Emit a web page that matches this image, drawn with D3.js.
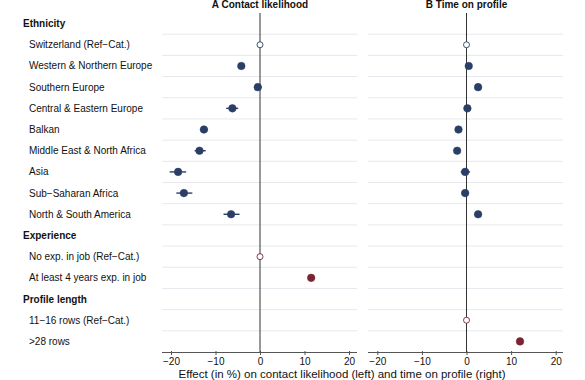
<!DOCTYPE html>
<html><head><meta charset="utf-8">
<script src="https://cdn.jsdelivr.net/npm/d3@7"></script>
<style>body{margin:0;background:#fff}svg{display:block;font-family:"Liberation Sans",Arial,sans-serif}</style>
</head><body><div id="chart"></div>
<script>
const rows = ["Ethnicity","Switzerland (Ref\u2212Cat.)","Western & Northern Europe","Southern Europe","Central & Eastern Europe","Balkan","Middle East & North Africa","Asia","Sub\u2212Saharan Africa","North & South America","Experience","No exp. in job (Ref\u2212Cat.)","At least 4 years exp. in job","Profile length","11\u221216 rows (Ref\u2212Cat.)",">28 rows"];
const headers = ["Ethnicity","Experience","Profile length"];
const refCats = ["Switzerland (Ref\u2212Cat.)","No exp. in job (Ref\u2212Cat.)","11\u221216 rows (Ref\u2212Cat.)"];
const maroonRows = ["No exp. in job (Ref\u2212Cat.)","At least 4 years exp. in job","11\u221216 rows (Ref\u2212Cat.)",">28 rows"];
// Panel A: contact likelihood [row, estimate, lo, hi]
const contactEst = [
 ["Switzerland (Ref\u2212Cat.)",0,0,0],
 ["Western & Northern Europe",-4.2,-4.9,-3.5],
 ["Southern Europe",-0.5,-1.3,0.4],
 ["Central & Eastern Europe",-6.2,-7.6,-4.9],
 ["Balkan",-12.6,-13.5,-11.7],
 ["Middle East & North Africa",-13.6,-14.7,-12.2],
 ["Asia",-18.4,-20.3,-16.6],
 ["Sub\u2212Saharan Africa",-17.1,-18.8,-15.2],
 ["North & South America",-6.5,-8.2,-4.6],
 ["No exp. in job (Ref\u2212Cat.)",0,0,0],
 ["At least 4 years exp. in job",11.5,10.8,12.2]
];
// Panel B: time on profile
const timeEst = [
 ["Switzerland (Ref\u2212Cat.)",0,0,0],
 ["Western & Northern Europe",0.5,0.0,1.0],
 ["Southern Europe",2.6,2.1,3.1],
 ["Central & Eastern Europe",0.2,-0.3,0.7],
 ["Balkan",-1.8,-2.3,-1.3],
 ["Middle East & North Africa",-2.1,-2.6,-1.6],
 ["Asia",-0.3,-1.3,0.8],
 ["Sub\u2212Saharan Africa",-0.3,-1.1,0.5],
 ["North & South America",2.6,1.8,3.4],
 ["11\u221216 rows (Ref\u2212Cat.)",0,0,0],
 [">28 rows",12.0,11.3,12.7]
];
const panelTitles = ["A Contact likelihood","B Time on profile"];
const xTicks = [-20,-10,0,10,20];
const xLabel = "Effect (in %) on contact likelihood (left) and time on profile (right)";

const W=585,H=380;
const navy="#2b3f66", maroon="#7a2430";
const svg=d3.select("#chart").append("svg").attr("width",W).attr("height",H);

const y=d3.scaleBand().domain(rows).range([13,352]);
const yc=r=>y(r)+y.bandwidth()/2;

svg.append("g").selectAll("text").data(rows).join("text")
 .attr("x",r=>headers.includes(r)?23:29)
 .attr("y",r=>yc(r)).attr("dy","0.35em")
 .attr("font-size",10)
 .attr("font-weight",r=>headers.includes(r)?"bold":"normal")
 .attr("fill","#111").text(r=>r);

const panels=[
 {data:contactEst,x0:162,x1:357,range:[171,349],title:panelTitles[0]},
 {data:timeEst,x0:368,x1:563,range:[377.3,555.7],title:panelTitles[1]}
];
panels.forEach(p=>{
 const x=d3.scaleLinear().domain([-20,20]).range(p.range);
 const g=svg.append("g");
 g.selectAll("line.grid").data(rows.slice(1)).join("line")
  .attr("x1",p.x0).attr("x2",p.x1)
  .attr("y1",r=>y(r)).attr("y2",r=>y(r))
  .attr("stroke","#e6e8ee").attr("stroke-width",1);
 const ax=g.append("g").attr("transform","translate(0,352)")
  .call(d3.axisBottom(x).tickValues(xTicks).tickSize(3).tickPadding(3).tickFormat(d=>d<0?"\u2212"+Math.abs(d):d));
 ax.select(".domain").attr("d",`M${p.x0},0.5H${p.x1}`).attr("stroke","#555");
 ax.selectAll(".tick line").attr("stroke","#555").attr("y1",-1);
 ax.selectAll(".tick text").attr("font-size",10).attr("font-family","Liberation Sans, Arial, sans-serif").attr("fill","#111");
 g.append("line").attr("x1",x(0)).attr("x2",x(0)).attr("y1",13).attr("y2",352)
  .attr("stroke","#333").attr("stroke-width",1);
 g.selectAll("line.ci").data(p.data.filter(d=>d[2]!==d[3])).join("line")
  .attr("x1",d=>x(d[2])).attr("x2",d=>x(d[3]))
  .attr("y1",d=>yc(d[0])).attr("y2",d=>yc(d[0]))
  .attr("stroke",d=>maroonRows.includes(d[0])?maroon:navy).attr("stroke-width",1.4);
 g.selectAll("circle").data(p.data).join("circle")
  .attr("cx",d=>x(d[1])).attr("cy",d=>yc(d[0]))
  .attr("r",d=>refCats.includes(d[0])?3:3.8)
  .attr("fill",d=>refCats.includes(d[0])?"#fff":(maroonRows.includes(d[0])?maroon:navy))
  .attr("stroke",d=>maroonRows.includes(d[0])?maroon:navy)
  .attr("stroke-width",d=>refCats.includes(d[0])?0.9:0.5);
 svg.append("text").attr("x",x(0)).attr("y",8).attr("text-anchor","middle")
  .attr("font-size",10).attr("font-weight","bold").attr("fill","#111").text(p.title);
});
svg.append("text").attr("x",342).attr("y",377.5).attr("text-anchor","middle")
 .attr("font-size",11.5).attr("fill","#111").text(xLabel);
</script></body></html>
